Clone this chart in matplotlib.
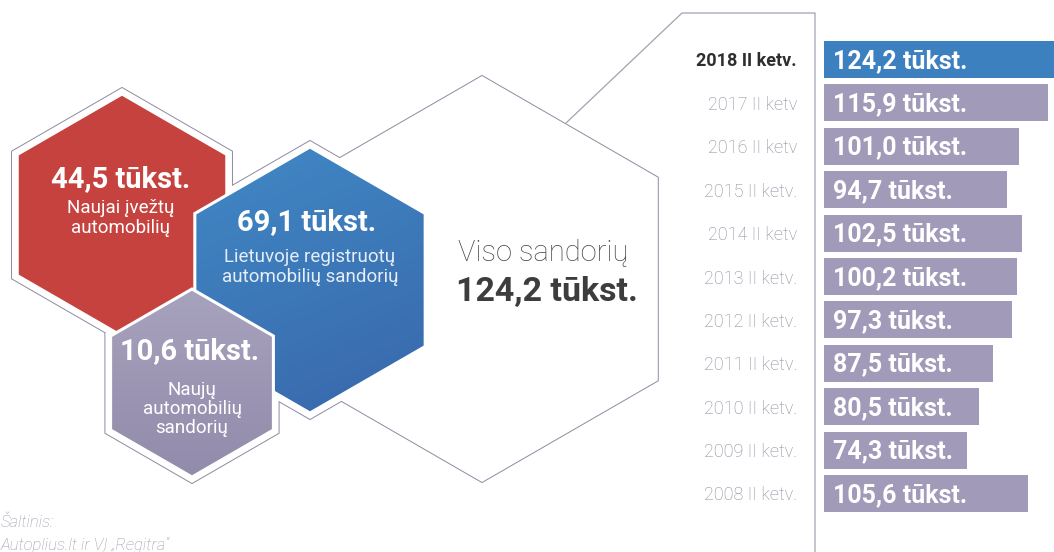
import numpy as np
import matplotlib
matplotlib.use("Agg")
import matplotlib.pyplot as plt
from matplotlib.patches import Polygon
from matplotlib.colors import LinearSegmentedColormap

# ---- data -------------------------------------------------------------
periods = ["2018 II ketv.", "2017 II ketv", "2016 II ketv", "2015 II ketv.",
           "2014 II ketv", "2013 II ketv.", "2012 II ketv.", "2011 II ketv.",
           "2010 II ketv.", "2009 II ketv.", "2008 II ketv."]
deals = [124.2, 115.9, 101.0, 94.7, 102.5, 100.2, 97.3, 87.5, 80.5, 74.3, 105.6]

imported_new = 44.5        # Naujai įvežtų automobilių
registered_deals = 69.1    # Lietuvoje registruotų automobilių sandorių
new_car_deals = 10.6       # Naujų automobilių sandorių
total_deals = 124.2        # Viso sandorių

def fmt(v):
    return f"{v:.1f}".replace(".", ",") + " tūkst."

# ---- style ------------------------------------------------------------
plt.rcParams["font.family"] = ["Roboto", "DejaVu Sans"]
RED = "#c6423f"
BLUE_TOP, BLUE_BOT = "#4189c6", "#3867ab"
PURP_TOP, PURP_BOT = "#a7a2bd", "#928bab"
BAR_GREY = "#a19bb9"
BAR_BLUE = "#3c80c0"
OUTLINE = "#8e8aa0"
LABEL_GREY = "#8a8798"

W, H = 1054, 552
fig = plt.figure(figsize=(W / 100, H / 100), dpi=100)

# full-figure canvas in pixel units for the hexagon infographic
ax = fig.add_axes([0, 0, 1, 1])
ax.set_xlim(0, W)
ax.set_ylim(H, 0)
ax.set_axis_off()


def hexagon(cx, cy, r):
    ang = np.deg2rad(np.arange(6) * 60 + 90)
    return np.column_stack([cx + r * np.cos(ang), cy - r * np.sin(ang)])


# centre x, centre y, outer radius, inner (fill) radius
big = (482, 279, 203)
red = (122, 215, 127, 121)
blue = (310, 280, 139, 133)
purple = (192, 383, 100, 94)

# silhouette outline of the combined shapes
shapes = [hexagon(*big), hexagon(*red[:3]), hexagon(*blue[:3]), hexagon(*purple[:3])]
for pts in shapes:
    ax.add_patch(Polygon(pts, closed=True, facecolor="white", edgecolor=OUTLINE,
                         lw=1.4, zorder=1))
for pts in shapes:
    ax.add_patch(Polygon(pts, closed=True, facecolor="white", edgecolor="none",
                         zorder=2))

# connector from the big hexagon to the bar panel
ax.plot([566, 682, 815, 815], [123, 13, 13, H], color="#a3a1b3", lw=0.9, zorder=3)


def gradient_hex(spec, c_top, c_bot, z, diag=False):
    cx, cy, _, r = spec
    pts = hexagon(cx, cy, r)
    poly = Polygon(pts, closed=True, facecolor="none", edgecolor="white",
                   lw=2.2, zorder=z + 0.5)
    ax.add_patch(poly)
    clip = Polygon(pts, closed=True, transform=ax.transData, facecolor="none",
                   edgecolor="none")
    ax.add_patch(clip)
    yy, xx = np.mgrid[0:1:200j, 0:1:200j]
    g = (yy * 0.7 + xx * 0.3) if diag else yy
    cmap = LinearSegmentedColormap.from_list("g", [c_top, c_bot])
    im = ax.imshow(g, cmap=cmap, extent=[cx - r, cx + r, cy + r, cy - r],
                   zorder=z, interpolation="bilinear", aspect="auto")
    im.set_clip_path(clip)


# red hexagon (flat colour)
rx, ry, _, rr = red
ax.add_patch(Polygon(hexagon(rx, ry, rr), closed=True, facecolor=RED,
                     edgecolor="white", lw=2.2, zorder=4))
gradient_hex(blue, BLUE_TOP, BLUE_BOT, 5, diag=True)
gradient_hex(purple, PURP_TOP, PURP_BOT, 6)

# hexagon texts
ax.text(121, 179, fmt(imported_new), color="white", fontsize=21, fontweight="bold",
        ha="center", va="center", zorder=10)
ax.text(121, 218, "Naujai įvežtų\nautomobilių", color="white", fontsize=13.5,
        ha="center", va="center", linespacing=1.15, zorder=10)

ax.text(307, 222, fmt(registered_deals), color="white", fontsize=21,
        fontweight="bold", ha="center", va="center", zorder=10)
ax.text(310, 267, "Lietuvoje registruotų\nautomobilių sandorių", color="#e6eef7",
        fontsize=13.5, ha="center", va="center", linespacing=1.15, zorder=10)

ax.text(190, 351, fmt(new_car_deals), color="white", fontsize=21,
        fontweight="bold", ha="center", va="center", zorder=10)
ax.text(192, 409, "Naujų\nautomobilių\nsandorių", color="white", fontsize=13.5,
        ha="center", va="center", linespacing=1.1, zorder=10)

ax.text(543, 253, "Viso sandorių", color="#4a4a4a", fontsize=21,
        fontweight="light", ha="center", va="center", zorder=10)
ax.text(547, 292, fmt(total_deals), color="#3d3d3d", fontsize=24.5,
        fontweight="bold", ha="center", va="center", zorder=10)

# source note
ax.text(1, 522, "Šaltinis:", color="#9a98a8", fontsize=12, style="italic",
        fontweight="light", ha="left", va="center", zorder=10)
ax.text(1, 545, "Autoplius.lt ir VĮ „Regitra“", color="#9a98a8", fontsize=12,
        style="italic", fontweight="light", ha="left", va="center", zorder=10)

# ---- bar panel ----------------------------------------------------------
x0_px = 824
px_per_unit = 1.93
row_px = 43.4
first_row_px = 59.5

axb = fig.add_axes([x0_px / W, 0, (W - x0_px) / W, 1])
axb.patch.set_alpha(0)
n = len(deals)
idx = np.arange(n)
colors = [BAR_BLUE] + [BAR_GREY] * (n - 1)
axb.barh(idx, deals, height=0.85, color=colors, zorder=2)
axb.set_xlim(0, (W - x0_px) / px_per_unit)
axb.set_ylim((H - first_row_px) / row_px, -first_row_px / row_px)
for s in axb.spines.values():
    s.set_visible(False)
axb.set_xticks([])
axb.set_yticks(idx)
axb.set_yticklabels(periods)
axb.tick_params(axis="y", length=0, pad=19.5)
for i, lab in enumerate(axb.get_yticklabels()):
    if i == 0:
        lab.set_fontweight("bold")
        lab.set_color("#2e2e2e")
    else:
        lab.set_fontweight("light")
        lab.set_color(LABEL_GREY)
    lab.set_fontsize(13)

for i, v in enumerate(deals):
    axb.text(4.6, i + 0.03, fmt(v), color="white", fontsize=18,
             fontweight="bold", ha="left", va="center", zorder=3)

fig.savefig("out.png", dpi=100)
